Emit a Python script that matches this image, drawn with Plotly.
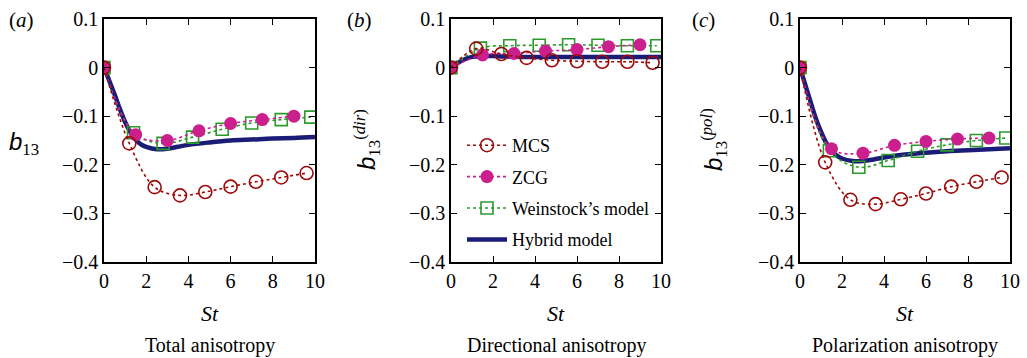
import plotly.graph_objects as go

# ---------------- data ----------------
mcs_x = [0, 1.2, 2.4, 3.6, 4.8, 6.0, 7.2, 8.4, 9.6]
zcg_x = [0, 1.5, 3.0, 4.5, 6.0, 7.5, 9.0]
wein_x = [0, 1.4, 2.8, 4.2, 5.6, 7.0, 8.4, 9.8]
hyb_x = [0, 0.25, 0.5, 0.75, 1, 1.25, 1.5, 1.75, 2, 2.5, 3, 3.5, 4, 5, 6, 7, 8, 9, 10]

# (a) total anisotropy
mcs_a = [0, -0.156, -0.246, -0.263, -0.256, -0.245, -0.235, -0.226, -0.217]
zcg_a = [0, -0.138, -0.150, -0.130, -0.115, -0.107, -0.100]
wein_a = [0, -0.134, -0.156, -0.143, -0.127, -0.114, -0.107, -0.102]
hyb_a = [0, -0.027, -0.055, -0.085, -0.112, -0.133, -0.148, -0.158, -0.163, -0.168,
         -0.167, -0.163, -0.159, -0.154, -0.150, -0.148, -0.146, -0.145, -0.143]

# (b) directional anisotropy
mcs_b = [0, 0.039, 0.028, 0.020, 0.015, 0.013, 0.012, 0.012, 0.010]
zcg_b = [0, 0.026, 0.029, 0.034, 0.037, 0.043, 0.047]
wein_b = [0, 0.040, 0.045, 0.046, 0.047, 0.046, 0.045, 0.045]
hyb_b = [0, 0.007, 0.014, 0.019, 0.022, 0.023, 0.024, 0.024, 0.024, 0.023,
         0.023, 0.022, 0.022, 0.022, 0.022, 0.022, 0.022, 0.022, 0.022]

# (c) polarization anisotropy
mcs_c = [0, -0.195, -0.272, -0.281, -0.271, -0.259, -0.245, -0.235, -0.226]
zcg_c = [0, -0.167, -0.176, -0.160, -0.152, -0.147, -0.145]
wein_c = [0, -0.171, -0.205, -0.191, -0.172, -0.159, -0.150, -0.145]
hyb_c = [0, -0.035, -0.070, -0.104, -0.132, -0.155, -0.171, -0.181, -0.187, -0.192,
         -0.192, -0.189, -0.185, -0.179, -0.175, -0.172, -0.170, -0.168, -0.166]

x_ticks = [0, 2, 4, 6, 8, 10]
y_ticks = [0.1, 0, -0.1, -0.2, -0.3, -0.4]
y_tick_text = ["0.1", "0", "\u22120.1", "\u22120.2", "\u22120.3", "\u22120.4"]

panel_letters = ["a", "b", "c"]
panel_titles = ["Total anisotropy", "Directional anisotropy", "Polarization anisotropy"]
series_names = ["MCS", "ZCG", "Weinstock\u2019s model", "Hybrid model"]

# ---------------- styles ----------------
C_MCS = "#9e0a0a"
C_ZCG = "#cc1f8e"
C_WEIN = "#2a9a2a"
C_HYB = "#1b1b78"
SERIF = "Liberation Serif, serif"

W, H = 1027, 358
T, B = 19, 96
PH = H - T - B
plot_px = [(104, 315), (451, 661), (800, 1010)]


def py2paper(py):
    return (H - B - py) / PH


fig = go.Figure()

panels = [
    (mcs_a, zcg_a, wein_a, hyb_a),
    (mcs_b, zcg_b, wein_b, hyb_b),
    (mcs_c, zcg_c, wein_c, hyb_c),
]

for i, (m, z, w, h) in enumerate(panels):
    xa = "x" if i == 0 else f"x{i+1}"
    ya = "y" if i == 0 else f"y{i+1}"
    show = (i == 1)
    fig.add_trace(go.Scatter(
        x=hyb_x, y=h, mode="lines", name=series_names[3], xaxis=xa, yaxis=ya,
        line=dict(color=C_HYB, width=4.5, shape="spline"), showlegend=show,
        legendrank=4, legendgroup="hyb"))
    fig.add_trace(go.Scatter(
        x=wein_x, y=w, mode="lines+markers", name=series_names[2], xaxis=xa, yaxis=ya,
        line=dict(color=C_WEIN, width=1.6, dash="dot", shape="spline"),
        marker=dict(symbol="square-open", size=12, color=C_WEIN, line=dict(width=1.6)),
        showlegend=show, legendrank=3, legendgroup="wein"))
    fig.add_trace(go.Scatter(
        x=zcg_x, y=z, mode="lines+markers", name=series_names[1], xaxis=xa, yaxis=ya,
        line=dict(color=C_ZCG, width=1.6, dash="dot", shape="spline"),
        marker=dict(symbol="circle", size=13, color=C_ZCG),
        showlegend=show, legendrank=2, legendgroup="zcg"))
    fig.add_trace(go.Scatter(
        x=mcs_x, y=m, mode="lines+markers", name=series_names[0], xaxis=xa, yaxis=ya,
        line=dict(color=C_MCS, width=1.6, dash="dot", shape="spline"),
        marker=dict(symbol="circle-open", size=13, color=C_MCS, line=dict(width=1.6)),
        showlegend=show, legendrank=1, legendgroup="mcs"))

layout = dict(
    width=W, height=H,
    margin=dict(l=0, r=0, t=T, b=B, autoexpand=False),
    paper_bgcolor="white", plot_bgcolor="white",
    font=dict(family=SERIF, color="black"),
    legend=dict(
        x=655 / W, xanchor="right", y=py2paper(127), yanchor="top",
        bgcolor="rgba(0,0,0,0)", borderwidth=0,
        font=dict(family=SERIF, size=18, color="black"),
        traceorder="grouped", tracegroupgap=5, itemwidth=40,
    ),
)

annotations = []
for i, (x0, x1) in enumerate(plot_px):
    suffix = "" if i == 0 else str(i + 1)
    common = dict(
        showline=True, linecolor="black", linewidth=1.5, mirror="ticks",
        ticks="inside", ticklen=6, tickwidth=1.2, tickcolor="black",
        showgrid=False, zeroline=False, automargin=False,
        tickfont=dict(family=SERIF, size=20, color="black"),
    )
    layout["xaxis" + suffix] = dict(
        common, domain=[x0 / W, x1 / W], range=[0, 10],
        tickvals=x_ticks, anchor="y" + suffix)
    layout["yaxis" + suffix] = dict(
        common, domain=[0, 1], range=[-0.4, 0.1],
        tickvals=y_ticks, ticktext=y_tick_text, anchor="x" + suffix)
    cx = (x0 + x1) / 2 / W
    annotations.append(dict(
        text="<i>St</i>", x=cx, y=py2paper(313), xref="paper", yref="paper",
        xanchor="center", yanchor="middle",
        showarrow=False, font=dict(family=SERIF, size=22, color="black")))
    annotations.append(dict(
        text=panel_titles[i], x=cx, y=py2paper(345), xref="paper", yref="paper",
        xanchor="center", yanchor="middle",
        showarrow=False, font=dict(family=SERIF, size=20, color="black")))

letter_px = [21, 359, 703]
for i, lx in enumerate(letter_px):
    annotations.append(dict(
        text=f"(<i>{panel_letters[i]}</i>)", x=lx / W, y=py2paper(20),
        xref="paper", yref="paper", showarrow=False, xanchor="center", yanchor="middle",
        font=dict(family=SERIF, size=21, color="black")))

annotations.append(dict(
    text="<i><span style='font-family:Liberation Sans'>b</span></i><sub>13</sub>",
    x=24 / W, y=py2paper(143), xref="paper", yref="paper", xanchor="center", yanchor="middle",
    showarrow=False, font=dict(family=SERIF, size=24, color="black")))
annotations.append(dict(
    text="<i><span style='font-family:Liberation Sans'>b</span></i><sub>13</sub><sup>(<i>dir</i>)</sup>",
    x=367 / W, y=py2paper(140), xref="paper", yref="paper", textangle=-90,
    xanchor="center", yanchor="middle",
    showarrow=False, font=dict(family=SERIF, size=24, color="black")))
annotations.append(dict(
    text="<i><span style='font-family:Liberation Sans'>b</span></i><sub>13</sub><sup>(<i>pol</i>)</sup>",
    x=714 / W, y=py2paper(140), xref="paper", yref="paper", textangle=-90,
    xanchor="center", yanchor="middle",
    showarrow=False, font=dict(family=SERIF, size=24, color="black")))

layout["annotations"] = annotations
fig.update_layout(**layout)

fig.write_html(
    "out.html",
    config={"displayModeBar": False},
    post_script="document.body.style.margin='0';document.body.style.padding='0';",
)
